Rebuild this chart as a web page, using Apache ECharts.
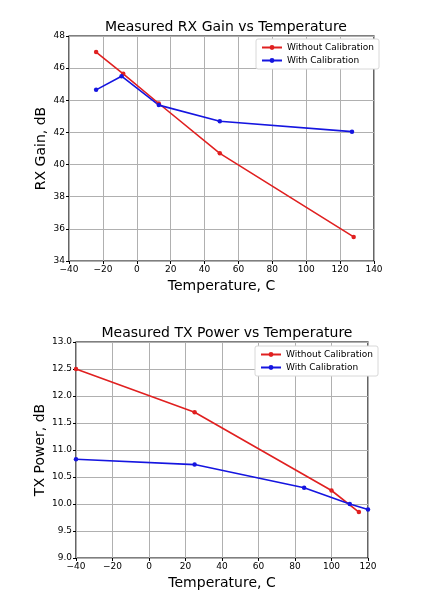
<!DOCTYPE html>
<html><head><meta charset="utf-8">
<script src="https://cdn.jsdelivr.net/npm/echarts@6/dist/echarts.min.js"></script>
<style>html,body{margin:0;padding:0;background:#fff}#c{width:433px;height:591px}</style>
</head><body><div id="c"></div>
<script>
// Chart 1: RX Gain
const rxWithoutX = [-24, -8, 13, 49, 128];
const rxWithoutY = [47.0, 45.65, 43.8, 40.7, 35.5];
const rxWithX = [-24, -9, 13, 49, 127];
const rxWithY = [44.65, 45.5, 43.7, 42.7, 42.05];
// Chart 2: TX Power
const txWithoutX = [-40, 25, 100, 115];
const txWithoutY = [12.5, 11.7, 10.25, 9.85];
const txWithX = [-40, 25, 85, 110, 120];
const txWithY = [10.83, 10.73, 10.3, 10.0, 9.9];
const seriesNames = ['Without Calibration', 'With Calibration'];
const titles = ['Measured RX Gain vs Temperature', 'Measured TX Power vs Temperature'];
const xName = 'Temperature, C';
const yNames = ['RX Gain, dB', 'TX Power, dB'];

const zip = (a, b) => a.map((v, i) => [v, b[i]]);
const FONT = 'DejaVu Sans';
const red = '#e02020', blue = '#1515e0';

function xAxis(gi, min, max, interval) {
  return {
    type: 'value', gridIndex: gi, min, max, interval,
    name: xName, nameLocation: 'middle', nameGap: 18, nameMoveOverlap: false,
    nameTextStyle: { fontFamily: FONT, fontSize: 14, color: '#000' },
    axisLine: { show: false, onZero: false },
    axisTick: { show: true, length: 3, inside: false, lineStyle: { color: '#000' } },
    axisLabel: { fontFamily: FONT, fontSize: 9, color: '#000', margin: 4,
      formatter: v => (v < 0 ? '\u2212' + Math.abs(v) : '' + v) },
    splitLine: { show: true, lineStyle: { color: '#b0b0b0', width: 1 } }
  };
}
function yAxis(gi, min, max, interval, dec, gap) {
  return {
    type: 'value', gridIndex: gi, min, max, interval,
    name: yNames[gi], nameLocation: 'middle', nameGap: gap, nameMoveOverlap: false,
    nameTextStyle: { fontFamily: FONT, fontSize: 14, color: '#000' },
    axisLine: { show: false, onZero: false },
    axisTick: { show: true, length: 3, lineStyle: { color: '#000' } },
    axisLabel: { fontFamily: FONT, fontSize: 9, color: '#000', margin: 4,
      formatter: v => v.toFixed(dec) },
    splitLine: { show: true, lineStyle: { color: '#b0b0b0', width: 1 } }
  };
}
function line(name, data, color, gi) {
  return {
    type: 'line', name, data, xAxisIndex: gi, yAxisIndex: gi,
    symbol: 'circle', symbolSize: 4.5, showSymbol: true,
    itemStyle: { color }, lineStyle: { color, width: 1.6 }, animation: false
  };
}
function legend(gi, left, top) {
  return {
    data: seriesNames.map(n => ({ name: n })),
    orient: 'vertical', left, top,
    itemWidth: 20, itemHeight: 6, itemGap: 4,
    padding: [4, 5, 4, 5],
    backgroundColor: '#fff', borderColor: '#d8d8d8', borderWidth: 1, borderRadius: 2,
    textStyle: { fontFamily: FONT, fontSize: 9, color: '#000' },
    selectedMode: false
  };
}

const chart = echarts.init(document.getElementById('c'), null, { renderer: 'canvas' });
chart.setOption({
  backgroundColor: '#fff',
  animation: false,
  title: [
    { text: titles[0], left: 221, top: 15, textAlign: 'center',
      textStyle: { fontFamily: FONT, fontSize: 14, fontWeight: 'normal', color: '#000' } },
    { text: titles[1], left: 222, top: 321, textAlign: 'center',
      textStyle: { fontFamily: FONT, fontSize: 14, fontWeight: 'normal', color: '#000' } }
  ],
  grid: [
    { left: 69, top: 36, width: 305, height: 225, show: true, borderColor: '#000', borderWidth: 1.2, backgroundColor: 'transparent' },
    { left: 76, top: 342, width: 292, height: 217, show: true, borderColor: '#000', borderWidth: 1.2, backgroundColor: 'transparent' }
  ],
  xAxis: [xAxis(0, -40, 140, 20), xAxis(1, -40, 120, 20)],
  yAxis: [yAxis(0, 34, 48, 2, 0, 21), yAxis(1, 9, 13, 0.5, 1, 29)],
  legend: [legend(0, 256, 39), legend(1, 255, 346)],
  series: [
    line(seriesNames[0], zip(rxWithoutX, rxWithoutY), red, 0),
    line(seriesNames[1], zip(rxWithX, rxWithY), blue, 0),
    line(seriesNames[0], zip(txWithoutX, txWithoutY), red, 1),
    line(seriesNames[1], zip(txWithX, txWithY), blue, 1)
  ]
});
</script></body></html>
